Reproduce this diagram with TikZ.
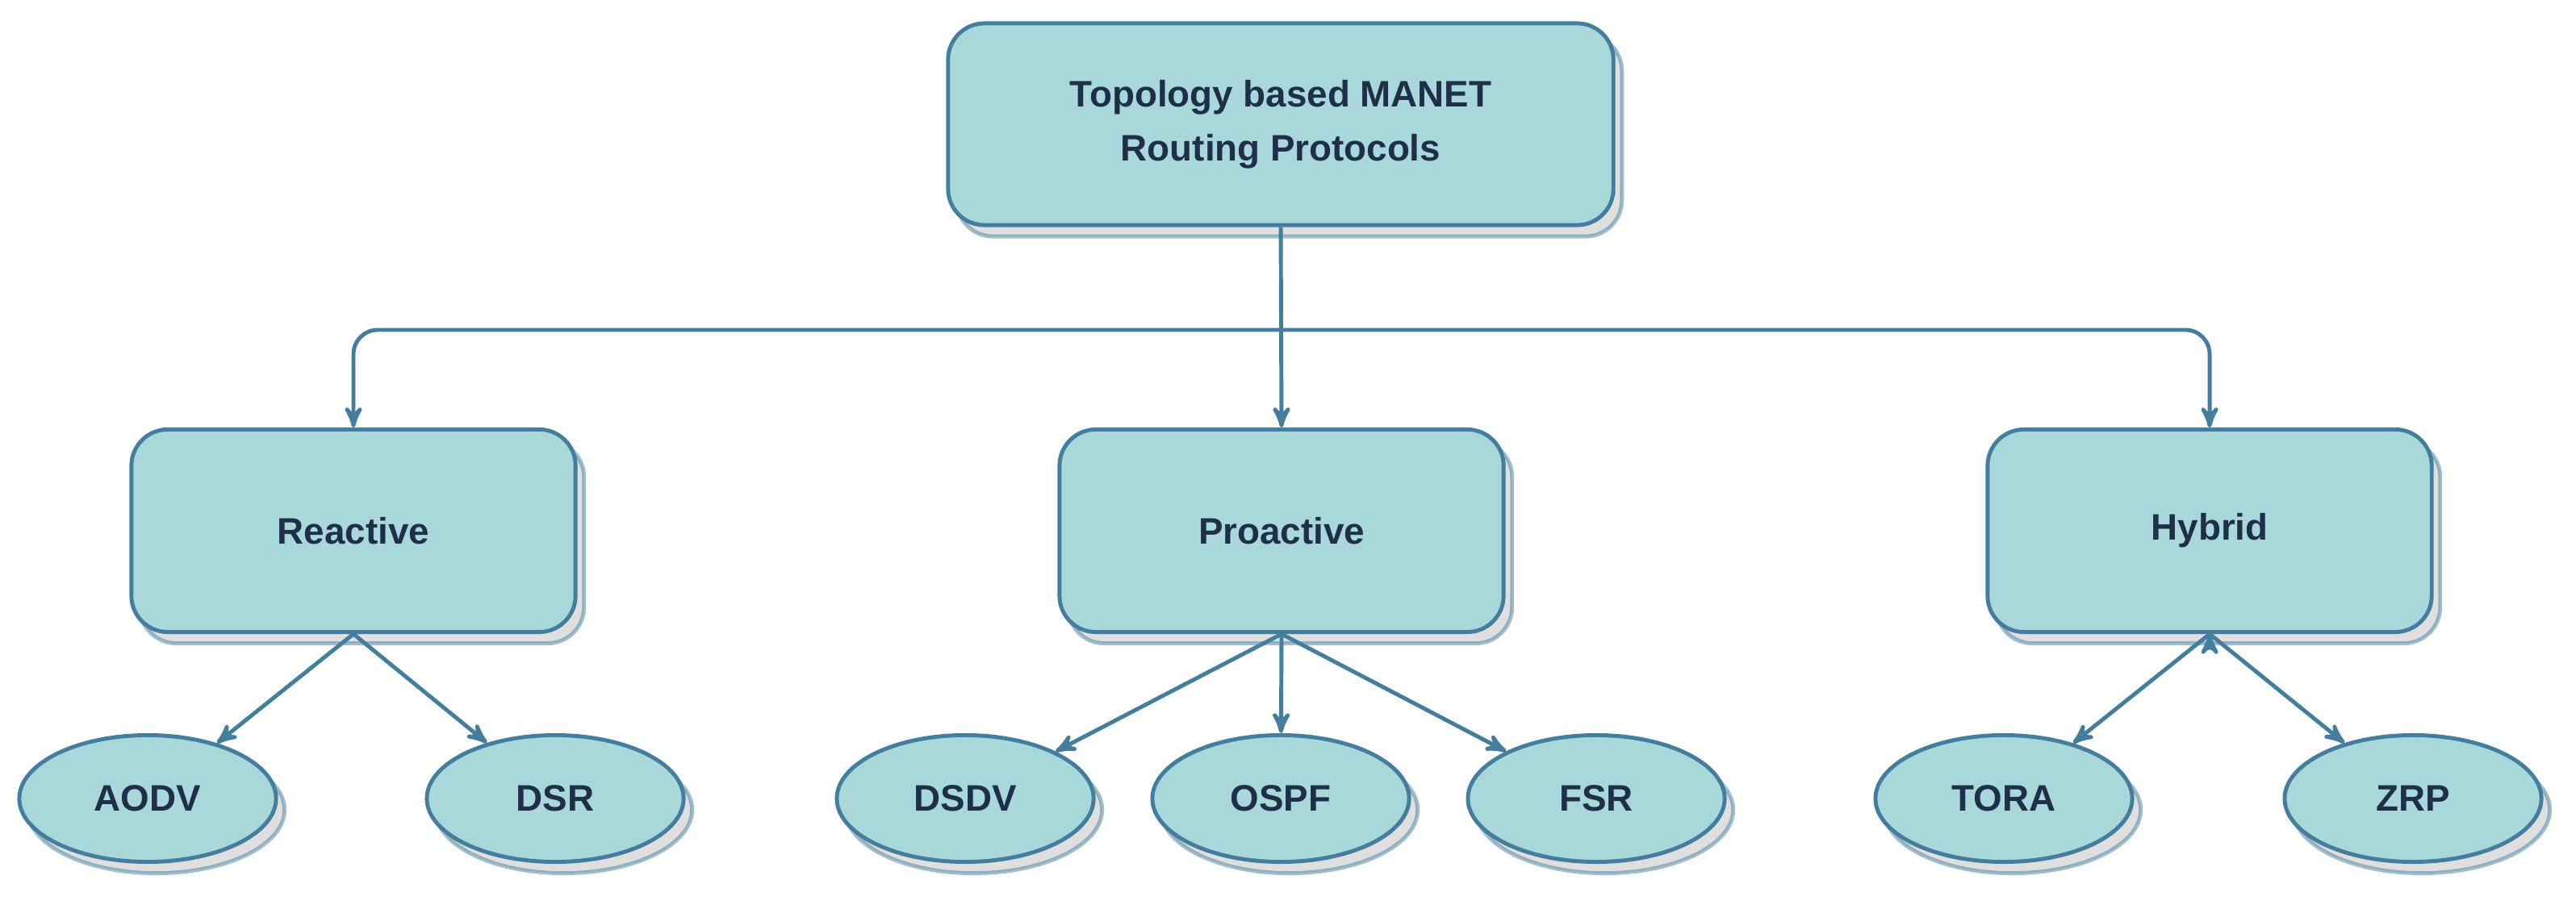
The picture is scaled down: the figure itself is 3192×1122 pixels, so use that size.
\documentclass[tikz,border=0pt]{standalone}
\usepackage{fontspec}
\setmainfont{Liberation Sans}
\usetikzlibrary{arrows,shadows,shapes.geometric}
\definecolor{boxfill}{HTML}{A8D8DA}
\definecolor{boxline}{HTML}{437E9E}
\definecolor{textcol}{HTML}{1F2F4A}
\begin{document}
\begin{tikzpicture}[x=0.01cm, y=-0.01cm, ->,>=stealth', semithick,
  every path/.style={draw=boxline, line width=1.4pt},
  box/.style={rectangle, rounded corners=0.45cm, fill=boxfill, draw=boxline, line width=1.4pt,
    text=textcol, font=\fontsize{13}{19}\selectfont\bfseries, align=center,
    drop shadow={shadow xshift=3pt, shadow yshift=-4pt, fill=black!25, opacity=0.5}},
  leaf/.style={ellipse, fill=boxfill, draw=boxline, line width=1.4pt, text=textcol,
    font=\fontsize{13}{16}\selectfont\bfseries, minimum width=3.18cm, minimum height=1.57cm,
    drop shadow={shadow xshift=3pt, shadow yshift=-4pt, fill=black!25, opacity=0.5}}]
  \useasboundingbox[draw=none] (0,0) rectangle (3192,1122);

  \node[box, minimum width=8.24cm, minimum height=2.5cm] (top) at (1587,154) {Topology based MANET\\Routing Protocols};
  \node[box, minimum width=5.5cm, minimum height=2.51cm] (R) at (438,658) {Reactive};
  \node[box, minimum width=5.5cm, minimum height=2.51cm] (P) at (1588,658) {Proactive};
  \node[box, minimum width=5.5cm, minimum height=2.51cm] (H) at (2738,658) {Hybrid};

  \node[leaf] (aodv) at (183,990) {AODV};
  \node[leaf] (dsr)  at (688,990) {DSR};
  \node[leaf] (dsdv) at (1196,990) {DSDV};
  \node[leaf] (ospf) at (1587,990) {OSPF};
  \node[leaf] (fsr)  at (1978,990) {FSR};
  \node[leaf] (tora) at (2483,990) {TORA};
  \node[leaf] (zrp)  at (2990,990) {ZRP};

  \coordinate (bar) at (1587,409);
  \draw (top.south) -- (P.north);
  \draw[rounded corners=0.3cm] (bar) -| (R.north);
  \draw[rounded corners=0.3cm] (bar) -| (H.north);

  \path (R.south) edge (aodv) edge (dsr)
        (P.south) edge (dsdv) edge (ospf) edge (fsr)
        (H.south) edge (tora) edge (zrp);
\end{tikzpicture}
\end{document}
